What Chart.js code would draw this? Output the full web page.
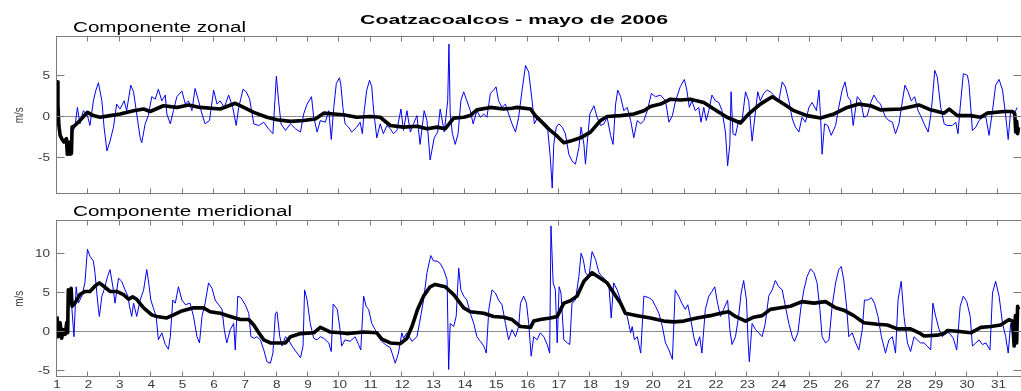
<!DOCTYPE html>
<html>
<head>
<meta charset="utf-8">
<title>Coatzacoalcos - mayo de 2006</title>
<script src="https://cdn.jsdelivr.net/npm/chart.js@4.4.0/dist/chart.umd.min.js"></script>
<style>
  html, body { margin: 0; padding: 0; background: #fff; overflow: hidden; }
  #wrap { position: relative; width: 1021px; height: 391px; overflow: hidden; }
  #wrap canvas { position: absolute; left: 0; top: 0; }
</style>
</head>
<body>
<div id="wrap">
  <canvas id="zonal" width="1030" height="391" style="width:1030px;height:391px"></canvas>
  <canvas id="meridional" width="1030" height="391" style="width:1030px;height:391px"></canvas>
</div>
<script>
// ===================== Data: [day of May, m/s] =====================
const dayTicks = Array.from({ length: 31 }, (_, i) => i + 1);
const zonalTicks = [-5, 0, 5];
const meridTicks = [-5, 0, 5, 10];

// zonal component, observed
const zonalObs = [[1.47,-2.0],[1.57,-1.2],[1.65,1.2],[1.73,-0.8],[1.84,0.8],[1.97,0.2],[2.05,-1.0],[2.16,2.0],[2.24,3.3],[2.32,4.2],[2.43,2.0],[2.50,-1.2],[2.59,-4.1],[2.69,-2.9],[2.80,-1.2],[2.90,1.6],[3.01,1.0],[3.14,2.0],[3.22,0.8],[3.35,3.9],[3.44,3.1],[3.54,0.4],[3.65,-2.5],[3.70,-3.1],[3.81,-0.8],[3.91,0.2],[4.02,2.5],[4.13,2.2],[4.23,3.4],[4.34,2.0],[4.45,2.7],[4.50,0.4],[4.61,-0.8],[4.71,0.8],[4.82,2.5],[4.98,3.2],[5.09,1.6],[5.19,2.0],[5.30,0.8],[5.40,3.5],[5.51,2.0],[5.62,0.4],[5.72,-0.8],[5.86,-0.4],[5.99,3.3],[6.10,1.6],[6.20,2.0],[6.33,1.2],[6.47,2.7],[6.60,1.2],[6.71,-1.0],[6.79,1.2],[6.93,3.4],[7.03,3.1],[7.14,2.2],[7.27,-0.8],[7.43,-1.0],[7.59,-0.6],[7.74,-1.4],[7.88,-2.0],[7.99,5.0],[8.06,2.0],[8.14,-0.8],[8.28,-1.6],[8.44,-0.8],[8.60,-1.4],[8.76,-1.8],[8.86,0.4],[8.97,1.6],[9.11,2.5],[9.18,0.0],[9.29,-1.8],[9.39,-0.4],[9.55,-0.6],[9.66,0.8],[9.74,-2.7],[9.82,1.2],[9.90,4.1],[10.00,4.8],[10.04,4.1],[10.11,1.2],[10.18,-0.8],[10.29,-1.2],[10.39,-1.8],[10.55,-1.2],[10.66,-0.6],[10.73,-2.0],[10.79,0.8],[10.87,3.3],[10.96,4.5],[11.03,3.7],[11.09,0.8],[11.19,-2.5],[11.30,-0.8],[11.40,-2.0],[11.51,-1.0],[11.62,-1.4],[11.72,-2.0],[11.83,-1.6],[11.96,1.0],[12.04,-1.6],[12.15,0.8],[12.26,-1.8],[12.36,-0.8],[12.47,0.2],[12.57,-3.3],[12.70,0.8],[12.79,-0.4],[12.89,-5.2],[13.02,-2.5],[13.13,-1.8],[13.21,1.0],[13.34,-1.8],[13.45,2.0],[13.49,8.9],[13.53,0.4],[13.60,-2.0],[13.69,-3.3],[13.78,-2.0],[13.87,2.0],[13.96,3.1],[14.06,2.0],[14.17,0.8],[14.26,-0.8],[14.38,0.8],[14.49,0.0],[14.60,0.4],[14.70,0.0],[14.81,2.9],[14.91,3.3],[14.99,3.7],[15.07,2.0],[15.18,1.2],[15.29,1.6],[15.39,0.4],[15.50,-0.8],[15.61,-1.8],[15.71,0.0],[15.82,3.3],[15.93,6.3],[16.03,5.5],[16.14,2.0],[16.21,-0.8],[16.32,0.0],[16.40,-0.2],[16.51,-1.0],[16.64,-1.6],[16.72,-4.9],[16.78,-8.6],[16.83,-3.3],[16.91,-1.2],[16.99,-0.8],[17.10,-1.2],[17.20,-2.0],[17.31,-4.5],[17.41,-5.3],[17.52,-5.7],[17.63,-3.7],[17.70,-1.2],[17.79,-3.3],[17.84,-5.7],[17.91,-2.5],[17.98,0.4],[18.11,1.4],[18.21,0.0],[18.32,-1.0],[18.43,-0.8],[18.53,0.0],[18.64,-2.2],[18.72,-3.3],[18.80,1.6],[18.87,3.3],[18.96,2.5],[19.06,0.8],[19.17,1.2],[19.28,-0.4],[19.38,-2.5],[19.49,-0.4],[19.60,-0.8],[19.70,-0.4],[19.81,0.8],[19.94,2.9],[20.07,2.5],[20.23,2.7],[20.39,2.0],[20.50,-0.6],[20.61,0.2],[20.71,2.0],[20.86,3.7],[20.99,4.6],[21.07,3.3],[21.15,1.2],[21.23,2.0],[21.34,0.8],[21.45,1.2],[21.52,-0.6],[21.61,1.2],[21.69,-0.4],[21.77,0.8],[21.87,2.7],[21.98,2.0],[22.09,1.8],[22.19,0.8],[22.30,-1.8],[22.37,-5.9],[22.44,-3.3],[22.48,3.1],[22.54,-2.0],[22.62,-2.2],[22.72,-0.4],[22.83,-0.4],[22.94,3.1],[23.04,2.0],[23.15,-2.9],[23.26,0.8],[23.33,3.1],[23.41,2.0],[23.52,2.9],[23.63,3.3],[23.73,3.1],[23.84,2.7],[24.00,2.0],[24.11,4.3],[24.21,3.7],[24.32,2.0],[24.43,-0.2],[24.53,-1.2],[24.64,-1.8],[24.74,0.0],[24.85,-0.6],[24.96,1.2],[25.06,1.8],[25.20,0.8],[25.28,3.3],[25.33,0.2],[25.38,-4.5],[25.46,-0.8],[25.56,-1.0],[25.67,-2.2],[25.81,-1.0],[25.91,1.2],[26.02,3.3],[26.11,4.3],[26.20,2.5],[26.29,2.0],[26.37,-1.0],[26.50,2.5],[26.61,2.0],[26.71,0.0],[26.82,0.2],[26.93,1.8],[27.03,2.7],[27.14,2.0],[27.24,1.6],[27.40,0.0],[27.51,-0.4],[27.62,-0.6],[27.72,-2.0],[27.83,-0.8],[27.94,2.0],[28.02,3.9],[28.12,3.1],[28.22,2.0],[28.33,2.5],[28.44,0.8],[28.52,0.2],[28.63,-0.8],[28.76,-1.8],[28.84,0.2],[28.89,2.0],[28.97,5.7],[29.05,4.9],[29.16,1.2],[29.27,-0.8],[29.37,-1.0],[29.53,-1.0],[29.64,-0.6],[29.71,-2.0],[29.78,1.2],[29.88,5.3],[30.01,5.1],[30.06,4.1],[30.17,-1.6],[30.28,-1.2],[30.38,-0.4],[30.49,0.0],[30.60,0.0],[30.70,-2.2],[30.81,0.8],[30.91,3.9],[31.02,4.6],[31.13,3.3],[31.23,0.2],[31.31,-2.7],[31.39,0.8],[31.50,0.4],[31.60,1.2]];

// zonal component, low-pass filtered
const zonalFilt = [[1.00,4.3],[1.03,1.5],[1.06,-1.0],[1.10,-2.2],[1.15,-2.6],[1.22,-3.0],[1.30,-2.6],[1.33,-4.5],[1.38,-3.0],[1.42,-4.5],[1.46,-4.4],[1.48,-1.2],[1.57,-1.0],[1.73,-0.4],[1.97,0.6],[2.16,0.2],[2.37,0.0],[2.69,0.2],[3.01,0.4],[3.44,0.8],[3.76,1.0],[3.97,0.7],[4.39,1.4],[4.82,1.2],[5.19,1.5],[5.56,1.2],[6.20,1.0],[6.68,1.7],[6.95,1.2],[7.27,0.6],[7.69,0.0],[8.01,-0.3],[8.44,-0.5],[8.86,-0.4],[9.23,-0.2],[9.50,0.5],[9.82,0.4],[10.13,0.3],[10.55,0.0],[10.98,0.1],[11.30,0.0],[11.62,-1.0],[12.04,-1.2],[12.47,-1.1],[12.79,-1.4],[13.11,-1.2],[13.37,-1.4],[13.64,-0.1],[13.96,0.0],[14.17,0.2],[14.38,0.9],[14.81,1.2],[15.23,1.0],[15.50,1.1],[15.66,1.2],[16.09,1.0],[16.24,0.2],[16.51,-0.8],[16.72,-1.6],[16.94,-2.3],[17.15,-3.1],[17.36,-2.9],[17.68,-2.5],[18.00,-1.8],[18.32,-0.4],[18.53,0.1],[18.96,0.2],[19.38,0.4],[19.70,0.8],[19.91,1.3],[20.23,1.6],[20.55,2.2],[20.87,2.1],[21.18,2.2],[21.61,1.8],[21.93,1.0],[22.35,0.0],[22.78,-0.7],[23.04,0.4],[23.41,1.6],[23.79,2.5],[24.16,1.6],[24.48,0.8],[24.90,0.2],[25.33,-0.1],[25.76,0.4],[26.18,1.2],[26.55,1.6],[26.93,1.4],[27.24,0.9],[27.88,1.0],[28.46,1.5],[28.84,0.9],[29.27,0.5],[29.43,1.0],[29.69,0.2],[30.11,0.2],[30.43,0.0],[30.64,0.5],[31.18,0.7],[31.45,0.7],[31.52,0.4],[31.55,-1.8],[31.58,-0.5],[31.61,-2.0],[31.64,-1.2]];

// meridional component, observed
const meridObs = [[1.47,3.3],[1.54,-0.6],[1.61,5.8],[1.68,3.7],[1.79,4.6],[1.89,6.3],[1.97,10.6],[2.05,9.7],[2.16,9.1],[2.21,7.6],[2.27,5.0],[2.32,2.9],[2.35,2.0],[2.43,4.6],[2.50,5.4],[2.61,7.1],[2.69,8.0],[2.78,5.8],[2.85,3.7],[2.96,6.9],[3.06,6.5],[3.17,5.4],[3.26,4.6],[3.31,3.3],[3.38,2.0],[3.44,3.7],[3.54,2.0],[3.65,4.1],[3.76,5.4],[3.86,8.0],[3.91,6.7],[3.99,4.1],[4.07,3.1],[4.16,2.0],[4.23,-1.0],[4.34,-0.1],[4.45,-1.6],[4.55,-2.2],[4.61,-0.6],[4.69,4.1],[4.77,3.7],[4.87,5.8],[4.98,4.1],[5.09,3.5],[5.24,3.7],[5.35,2.0],[5.46,-0.6],[5.54,-1.4],[5.62,2.0],[5.72,3.7],[5.83,6.3],[5.94,5.6],[6.04,4.1],[6.15,3.5],[6.26,2.9],[6.33,0.3],[6.41,-1.4],[6.52,0.3],[6.63,1.1],[6.68,-2.3],[6.76,4.6],[6.86,4.4],[7.00,3.5],[7.11,2.4],[7.18,-0.6],[7.29,-0.8],[7.37,-0.6],[7.48,-1.0],[7.59,-2.3],[7.69,-3.8],[7.80,-4.0],[7.88,-2.7],[7.96,2.4],[8.01,2.6],[8.10,-0.6],[8.17,-1.8],[8.28,-0.6],[8.38,-1.0],[8.49,-1.8],[8.65,-2.7],[8.76,-3.3],[8.84,-1.8],[8.89,5.4],[8.97,4.1],[9.07,1.1],[9.18,-0.8],[9.29,-1.0],[9.39,-0.6],[9.50,-0.8],[9.66,-1.4],[9.74,-2.5],[9.80,3.6],[9.93,2.9],[10.02,0.3],[10.07,-1.8],[10.18,-1.0],[10.34,-1.2],[10.50,-0.6],[10.61,-1.6],[10.68,-2.3],[10.77,4.6],[10.85,3.3],[10.93,2.9],[11.03,1.1],[11.14,0.3],[11.24,-0.6],[11.35,-1.2],[11.46,-1.6],[11.62,-2.0],[11.78,-4.0],[11.88,-2.7],[11.99,-0.1],[12.04,-0.8],[12.15,-0.1],[12.31,-1.2],[12.47,-0.6],[12.55,1.1],[12.68,4.1],[12.79,7.6],[12.91,9.8],[13.00,9.1],[13.11,9.1],[13.21,8.8],[13.32,8.0],[13.43,6.7],[13.48,-4.8],[13.53,1.1],[13.64,0.7],[13.72,2.0],[13.80,8.2],[13.87,5.4],[13.96,4.6],[14.06,4.1],[14.17,2.4],[14.28,1.1],[14.38,-0.6],[14.49,-1.2],[14.60,-1.8],[14.68,-2.7],[14.76,2.9],[14.86,5.4],[14.97,5.0],[15.07,4.1],[15.18,3.5],[15.29,1.1],[15.39,-1.0],[15.50,0.3],[15.61,-0.6],[15.71,0.7],[15.77,3.7],[15.87,4.6],[15.96,3.7],[16.03,1.1],[16.11,-3.1],[16.19,-0.6],[16.30,-1.0],[16.40,-0.1],[16.51,-0.6],[16.62,-1.6],[16.70,-2.7],[16.74,13.6],[16.81,6.3],[16.88,5.4],[16.94,-1.4],[17.00,5.8],[17.06,5.0],[17.15,-1.0],[17.26,-1.4],[17.34,-1.6],[17.41,3.7],[17.52,4.1],[17.63,7.1],[17.70,10.1],[17.77,9.3],[17.84,7.6],[17.95,7.1],[18.05,10.3],[18.16,9.3],[18.27,7.6],[18.37,7.1],[18.48,6.7],[18.59,5.8],[18.66,1.8],[18.74,6.3],[18.85,5.4],[18.96,4.1],[19.06,2.9],[19.17,2.0],[19.28,-0.1],[19.33,0.7],[19.40,-1.0],[19.49,-0.6],[19.60,-2.7],[19.70,4.6],[19.86,4.4],[19.97,4.1],[20.07,3.3],[20.18,2.4],[20.29,0.7],[20.39,-1.4],[20.50,-2.3],[20.61,-3.5],[20.70,5.4],[20.81,4.6],[20.91,3.7],[21.02,2.9],[21.10,3.5],[21.18,2.0],[21.29,-0.6],[21.37,-1.8],[21.48,-0.6],[21.55,-2.7],[21.66,2.9],[21.77,4.6],[21.87,5.2],[21.96,5.8],[22.03,4.1],[22.14,2.0],[22.24,2.9],[22.37,4.1],[22.44,0.3],[22.51,-1.6],[22.62,-0.6],[22.72,2.0],[22.80,5.0],[22.88,6.6],[22.97,4.1],[23.02,-1.0],[23.06,-3.8],[23.15,1.1],[23.26,0.3],[23.36,-0.1],[23.47,-0.6],[23.57,1.1],[23.68,4.6],[23.79,5.4],[23.89,6.6],[24.00,5.8],[24.11,5.4],[24.21,3.3],[24.32,1.1],[24.43,-0.6],[24.50,-1.2],[24.61,-0.1],[24.71,3.3],[24.80,5.4],[24.90,7.1],[25.01,8.1],[25.12,7.6],[25.22,6.3],[25.31,2.9],[25.38,-0.6],[25.49,-1.4],[25.60,-1.0],[25.70,3.3],[25.81,6.3],[25.91,8.0],[25.99,8.4],[26.07,6.7],[26.16,3.3],[26.23,-0.6],[26.34,-0.1],[26.45,-1.4],[26.55,-2.3],[26.66,0.3],[26.73,4.1],[26.84,4.1],[26.95,4.4],[27.05,3.7],[27.16,2.0],[27.27,-0.6],[27.40,-2.7],[27.51,-1.0],[27.62,-0.6],[27.72,-2.7],[27.80,4.1],[27.90,6.5],[27.99,2.0],[28.10,-1.4],[28.20,-2.5],[28.31,-0.6],[28.41,-1.0],[28.52,-1.4],[28.63,-1.4],[28.73,-1.8],[28.84,-2.3],[28.91,3.7],[29.00,2.0],[29.11,0.3],[29.21,-0.6],[29.32,-0.1],[29.43,-0.1],[29.56,-0.8],[29.67,-2.3],[29.78,3.3],[29.88,4.6],[29.99,3.9],[30.10,2.0],[30.17,-1.8],[30.28,-1.4],[30.38,-1.0],[30.49,-1.6],[30.60,-1.4],[30.73,-2.3],[30.81,5.0],[30.91,6.5],[31.02,4.6],[31.13,1.1],[31.23,-0.6],[31.31,-2.7],[31.39,1.1],[31.50,-1.0],[31.60,1.1]];

// meridional component, low-pass filtered
const meridFilt = [[1.00,2.0],[1.04,-0.6],[1.10,1.2],[1.15,-0.8],[1.20,0.3],[1.26,-0.3],[1.31,1.2],[1.34,-0.1],[1.36,5.4],[1.41,3.7],[1.45,5.6],[1.48,3.3],[1.57,3.7],[1.73,4.8],[1.89,5.2],[2.05,5.2],[2.21,5.9],[2.35,6.3],[2.48,5.9],[2.69,5.2],[2.90,5.2],[3.12,4.8],[3.28,4.2],[3.41,4.5],[3.54,4.2],[3.76,3.1],[4.02,2.2],[4.18,2.0],[4.50,1.8],[4.71,2.2],[4.98,2.7],[5.35,3.1],[5.67,3.1],[5.88,2.6],[6.20,2.4],[6.52,2.0],[6.84,1.6],[7.11,1.6],[7.27,0.9],[7.43,-0.1],[7.59,-1.0],[7.80,-1.4],[8.01,-1.4],[8.28,-1.4],[8.44,-0.6],[8.76,-0.2],[9.18,-0.1],[9.39,0.6],[9.55,0.3],[9.71,0.0],[10.03,-0.1],[10.23,-0.2],[10.77,0.0],[11.19,-0.1],[11.35,-0.9],[11.62,-1.4],[11.94,-1.5],[12.15,-0.8],[12.31,0.7],[12.49,2.9],[12.68,4.6],[12.89,5.8],[13.05,6.1],[13.37,5.8],[13.64,4.8],[13.96,3.1],[14.17,2.6],[14.60,2.4],[14.91,2.0],[15.23,1.9],[15.50,1.6],[15.77,0.7],[16.09,0.6],[16.19,1.4],[16.40,1.6],[16.72,1.8],[16.94,2.0],[17.15,3.7],[17.36,4.0],[17.57,4.6],[17.79,6.5],[18.05,7.6],[18.32,6.9],[18.53,6.3],[18.74,5.0],[18.96,3.7],[19.11,2.4],[19.49,2.1],[19.91,1.8],[20.34,1.4],[20.66,1.3],[20.97,1.4],[21.39,1.8],[21.82,2.1],[22.14,2.4],[22.40,2.6],[22.62,2.0],[22.94,1.4],[23.20,1.9],[23.47,2.1],[23.73,2.9],[24.05,3.1],[24.37,3.3],[24.74,3.9],[25.12,3.7],[25.49,3.9],[25.81,3.1],[26.07,2.8],[26.39,2.1],[26.71,1.2],[27.14,1.0],[27.46,0.9],[27.78,0.4],[28.20,0.4],[28.47,-0.1],[28.63,-0.5],[29.05,-0.4],[29.27,-0.2],[29.37,0.2],[29.69,0.1],[30.12,-0.1],[30.44,0.6],[30.76,0.7],[31.07,0.9],[31.34,1.6],[31.45,1.4],[31.50,-1.8],[31.54,2.1],[31.58,-1.4],[31.61,3.3],[31.64,2.9]];

// ===================== Helpers =====================
const FONT = '"Liberation Sans", Arial, Helvetica, sans-serif';

// text drawn wider than the font's natural width (sx = horizontal scale)
function wideText(ctx, str, x, y, sx, align) {
  ctx.save();
  ctx.translate(x, y);
  ctx.scale(sx, 1);
  ctx.textAlign = align;
  ctx.textBaseline = 'middle';
  ctx.fillText(str, 0, 0);
  ctx.restore();
}

// text stretched to a given width, left edge at x
function fitText(ctx, str, x, y, width, align) {
  const sx = width / ctx.measureText(str).width;
  wideText(ctx, str, x, y, sx, align);
}

const half = v => Math.round(v) - 0.5;

// frame, inward ticks, zero line and all labels of one panel
const panelDecor = {
  id: 'panelDecor',
  beforeDatasetsDraw(chart, args, o) {
    const { ctx, chartArea: a, scales: { y } } = chart;
    const y0 = half(y.getPixelForValue(0));
    ctx.save();
    ctx.strokeStyle = '#8c8c8c';
    ctx.lineWidth = 1;
    ctx.beginPath();
    ctx.moveTo(a.left, y0);
    ctx.lineTo(a.right, y0);
    ctx.stroke();
    ctx.restore();
  },
  afterDraw(chart, args, o) {
    const { ctx, chartArea: a, scales: { x, y } } = chart;
    const L = half(a.left), R = half(a.right), T = half(a.top), B = half(a.bottom);
    ctx.save();
    ctx.strokeStyle = '#7a7a7a';
    ctx.lineWidth = 1;
    ctx.strokeRect(L, T, R - L, B - T);

    ctx.beginPath();
    dayTicks.forEach(d => {
      const px = half(x.getPixelForValue(d));
      ctx.moveTo(px, T); ctx.lineTo(px, T + 5);
      ctx.moveTo(px, B); ctx.lineTo(px, B - 5);
    });
    o.yTicks.forEach(v => {
      const py = half(y.getPixelForValue(v));
      ctx.moveTo(L, py); ctx.lineTo(L + 8, py);
      ctx.moveTo(R, py); ctx.lineTo(R - 8, py);
    });
    ctx.stroke();

    ctx.fillStyle = '#3a3a3a';
    ctx.font = '10px ' + FONT;
    o.yTicks.forEach(v => {
      wideText(ctx, String(v), a.left - 7, y.getPixelForValue(v), 1.35, 'right');
    });
    if (o.dayLabels) {
      dayTicks.forEach(d => {
        wideText(ctx, String(d), x.getPixelForValue(d), a.bottom + 8.5, 1.35, 'center');
      });
    }

    // rotated unit label
    ctx.save();
    ctx.translate(19, (a.top + a.bottom) / 2);
    ctx.rotate(-Math.PI / 2);
    ctx.scale(1, 1.35);
    ctx.textAlign = 'center';
    ctx.textBaseline = 'middle';
    ctx.fillText('m/s', 0, 0);
    ctx.restore();

    ctx.fillStyle = '#000';
    ctx.font = '14px ' + FONT;
    fitText(ctx, o.subtitle, 73, a.top - 9, o.subtitleWidth, 'left');
    if (o.title) {
      ctx.font = 'bold 13px ' + FONT;
      const w = 308;
      fitText(ctx, o.title, 514 - w / 2, 20, w, 'left');
    }
    ctx.restore();
  }
};

function panel(id, obs, filt, yMin, yMax, pad, decor) {
  return new Chart(document.getElementById(id), {
    type: 'line',
    data: {
      datasets: [
        { // filtered series, drawn on top
          data: filt.map(([x, y]) => ({ x, y })),
          borderColor: '#000',
          borderWidth: 3.6,
          pointRadius: 0,
          tension: 0,
          borderJoinStyle: 'round'
        },
        {
          data: obs.map(([x, y]) => ({ x, y })),
          borderColor: '#0000f0',
          borderWidth: 1,
          pointRadius: 0,
          tension: 0
        }
      ]
    },
    options: {
      responsive: false,
      animation: false,
      events: [],
      layout: { padding: pad },
      plugins: {
        legend: { display: false },
        tooltip: { enabled: false },
        panelDecor: decor
      },
      scales: {
        x: { type: 'linear', min: 1, max: 31.75, display: false },
        y: { type: 'linear', min: yMin, max: yMax, display: false }
      }
    },
    plugins: [panelDecor]
  });
}

// ===================== Panels =====================
panel('zonal', zonalObs, zonalFilt, -9.27, 9.76,
  { left: 57, right: 8, top: 37, bottom: 197.5 },
  { yTicks: zonalTicks, dayLabels: false, subtitle: 'Componente zonal', subtitleWidth: 173,
    title: 'Coatzacoalcos - mayo de 2006' });

panel('meridional', meridObs, meridFilt, -5.7, 14.23,
  { left: 57, right: 8, top: 221, bottom: 14.5 },
  { yTicks: meridTicks, dayLabels: true, subtitle: 'Componente meridional', subtitleWidth: 219 });
</script>
</body>
</html>
